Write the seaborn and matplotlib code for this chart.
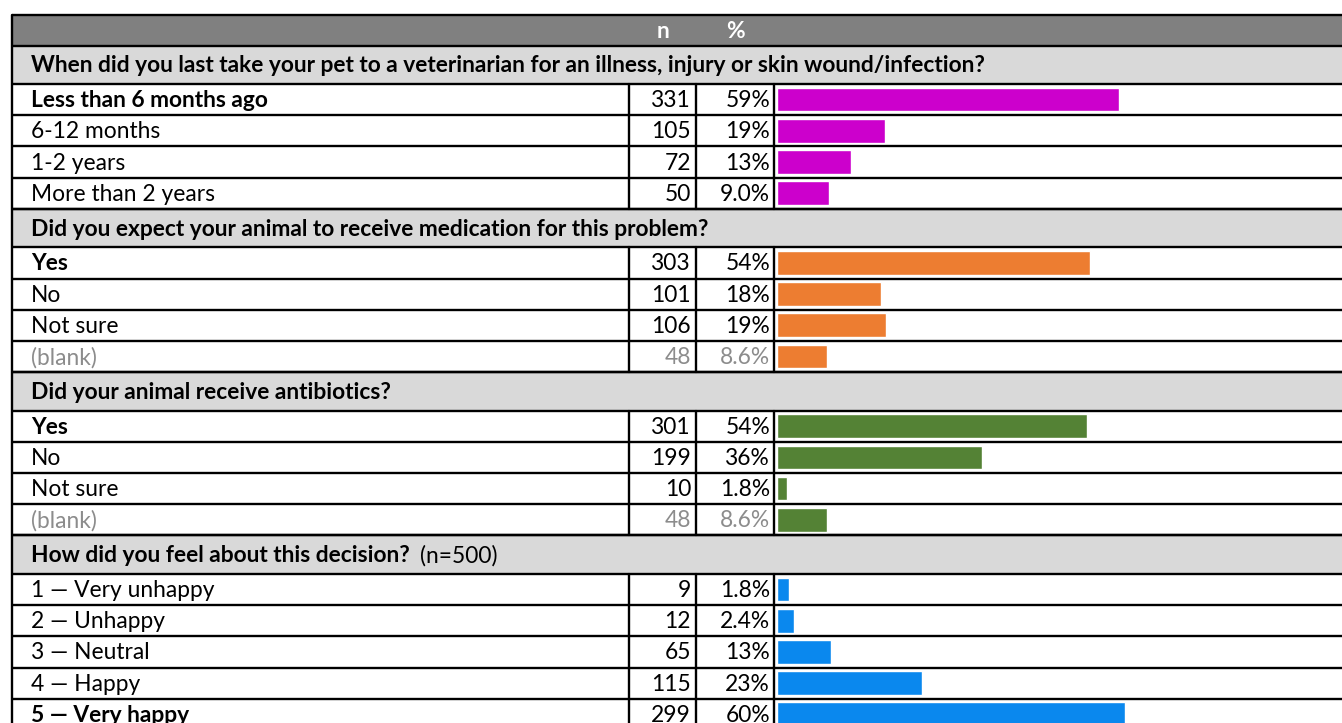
import matplotlib
matplotlib.use("Agg")
import matplotlib.pyplot as plt
import seaborn as sns
import pandas as pd

sns.set_theme(style="white")
plt.rcParams['font.family'] = ['Lato', 'DejaVu Sans']

# survey data
questions = [
    "When did you last take your pet to a veterinarian for an illness, injury or skin wound/infection?",
    "Did you expect your animal to receive medication for this problem?",
    "Did your animal receive antibiotics?",
    "How did you feel about this decision?",
]
question_notes = ["", "", "", "(n=500)"]

q1_labels = ["Less than 6 months ago", "6-12 months", "1-2 years", "More than 2 years"]
q1_n = [331, 105, 72, 50]
q1_pct = [59.3, 18.8, 12.9, 9.0]
q1_bar = [59.0, 18.6, 12.8, 9.0]

q2_labels = ["Yes", "No", "Not sure", "(blank)"]
q2_n = [303, 101, 106, 48]
q2_pct = [54.3, 18.1, 19.0, 8.6]
q2_bar = [54.0, 17.9, 18.8, 8.6]

q3_labels = ["Yes", "No", "Not sure", "(blank)"]
q3_n = [301, 199, 10, 48]
q3_pct = [53.9, 35.7, 1.8, 8.6]
q3_bar = [53.4, 35.3, 1.7, 8.6]

q4_labels = ["1 \u2014 Very unhappy", "2 \u2014 Unhappy", "3 \u2014 Neutral", "4 \u2014 Happy", "5 \u2014 Very happy"]
q4_n = [9, 12, 65, 115, 299]
q4_pct = [1.8, 2.4, 13.0, 23.0, 59.8]
q4_bar = [2.1, 2.9, 9.3, 25.0, 60.0]

bold_rows = [0, 0, 0, 4]
colors = ["#CC00CC", "#ED7D31", "#548235", "#0A88EE"]

sections = [
    (q1_labels, q1_n, q1_pct, q1_bar),
    (q2_labels, q2_n, q2_pct, q2_bar),
    (q3_labels, q3_n, q3_pct, q3_bar),
    (q4_labels, q4_n, q4_pct, q4_bar),
]

W, H = 1342, 723
fig = plt.figure(figsize=(W / 100, H / 100), dpi=100)
ax = fig.add_axes([0, 0, 1, 1])
ax.set_xlim(0, W)
ax.set_ylim(H, 0)
ax.axis("off")

left, right = 12, W
col_n, col_p, col_bar = 629, 696, 774
bar_x0 = 777
px_per_pct = 5.8
top = 15
head_h = 30.5
sec_h = 38.5
row_h = 31.2
fs = 16.4
lw = 1.7
gray_txt = "#8c8c8c"


def fmt_pct(p):
    if p < 10:
        return f"{p:.1f}%"
    return f"{round(p):.0f}%"


def hline(y):
    ax.plot([left, right], [y, y], color="black", lw=lw, solid_capstyle="butt", zorder=5)


renderer = fig.canvas.get_renderer()

# header
ax.add_patch(plt.Rectangle((left, top), right - left, head_h, color="#808080", lw=0))
ax.text((col_n + col_p) / 2, top + head_h / 2 + 1, "n", color="white", fontsize=fs,
        fontweight="bold", ha="center", va="center")
ax.text((col_p + col_bar) / 2, top + head_h / 2 + 1, "%", color="white", fontsize=fs,
        fontweight="bold", ha="center", va="center")
hline(top)

y = top + head_h
for i, (labels, ns, pcts, bars) in enumerate(sections):
    # section title row
    ax.add_patch(plt.Rectangle((left, y), right - left, sec_h, color="#D9D9D9", lw=0))
    hline(y)
    t = ax.text(31, y + sec_h / 2 + 1, questions[i], fontsize=fs, fontweight="bold",
                ha="left", va="center", color="black")
    if question_notes[i]:
        bb = t.get_window_extent(renderer=renderer)
        ax.text(bb.x1 + 10, y + sec_h / 2 + 1, question_notes[i], fontsize=fs,
                ha="left", va="center", color="black")
    y += sec_h
    hline(y)
    y0 = y
    for j, lab in enumerate(labels):
        cy = y + row_h / 2 + 1
        weight = "bold" if j == bold_rows[i] else "normal"
        c = gray_txt if lab == "(blank)" else "black"
        ax.text(31, cy, lab, fontsize=fs, fontweight=weight, ha="left", va="center", color=c)
        ax.text(col_p - 5, cy, str(ns[j]), fontsize=fs, ha="right", va="center", color=c)
        ax.text(col_bar - 4, cy, fmt_pct(pcts[j]), fontsize=fs, ha="right", va="center", color=c)
        y += row_h
        hline(y)
    for xv in (col_n, col_p, col_bar):
        ax.plot([xv, xv], [y0, y], color="black", lw=lw, zorder=5)

    # bars for this section on their own axes
    bax = fig.add_axes([(col_bar + 1) / W, 1 - y / H, (W - col_bar - 1) / W, (y - y0) / H])
    df = pd.DataFrame({"label": labels, "bar": bars})
    sns.barplot(data=df, x="bar", y="label", orient="h", color=colors[i], saturation=1,
                width=0.76, errorbar=None, ax=bax)
    bax.set_xlim(-(bar_x0 - col_bar - 1) / px_per_pct, (W - bar_x0) / px_per_pct)
    bax.set_ylim(len(labels) - 0.5, -0.5)
    bax.axis("off")
    bax.patch.set_alpha(0)

ax.plot([left, left], [top, H], color="black", lw=lw, zorder=5)

fig.savefig("out.png", dpi=100)
